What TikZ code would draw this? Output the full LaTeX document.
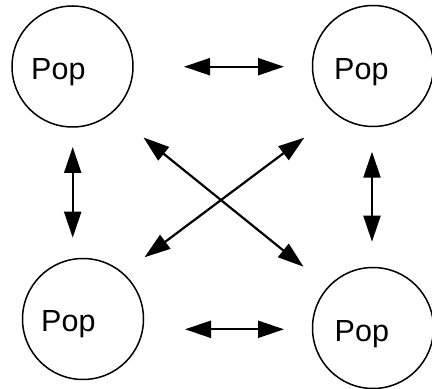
\documentclass[tikz,border=0pt]{standalone}
\usepackage{fontspec}
\setmainfont{Liberation Sans}
\usetikzlibrary{arrows.meta}
\begin{document}
\begin{tikzpicture}[x=1pt,y=1pt,
  pop/.style={circle,draw=black,line width=1.5pt,minimum size=121pt,inner sep=0pt},
  poptext/.style={anchor=base west,inner sep=0pt,font=\fontsize{30.5}{36}\selectfont},
  link/.style={line width=2.2pt,{Triangle[length=26pt,width=17pt]}-{Triangle[length=26pt,width=17pt]}}]
\useasboundingbox (0,0) rectangle (432,389);
% circles
\node[pop] (tl) at (72.5,322.5) {};
\node[pop] (tr) at (373,323) {};
\node[pop] (bl) at (83,70) {};
\node[pop] (br) at (373,61) {};
% labels
\node[poptext] (tlt) at (31,309) {Pop};
\node[poptext] (trt) at (334,309) {Pop};
\node[poptext] (blt) at (41,57.3) {Pop};
\node[poptext] (brt) at (334.5,47.3) {Pop};
% arrow ends
\coordinate (a1) at (184,322.3);
\coordinate (a2) at (284,322.3);
\coordinate (b1) at (185,59.7);
\coordinate (b2) at (284,59.7);
\coordinate (l1) at (72.7,242);
\coordinate (l2) at (72.7,151.3);
\coordinate (r1) at (372,237.3);
\coordinate (r2) at (372,147.3);
\coordinate (d1) at (143.5,251.5);
\coordinate (d2) at (303.5,122.3);
\coordinate (e1) at (304.3,251.3);
\coordinate (e2) at (144.5,131.7);
% connectors
\draw[link] (a1) -- (a2);
\draw[link] (b1) -- (b2);
\draw[link] (l1) -- (l2);
\draw[link] (r1) -- (r2);
\draw[link] (d1) -- (d2);
\draw[link] (e1) -- (e2);
\end{tikzpicture}
\end{document}
